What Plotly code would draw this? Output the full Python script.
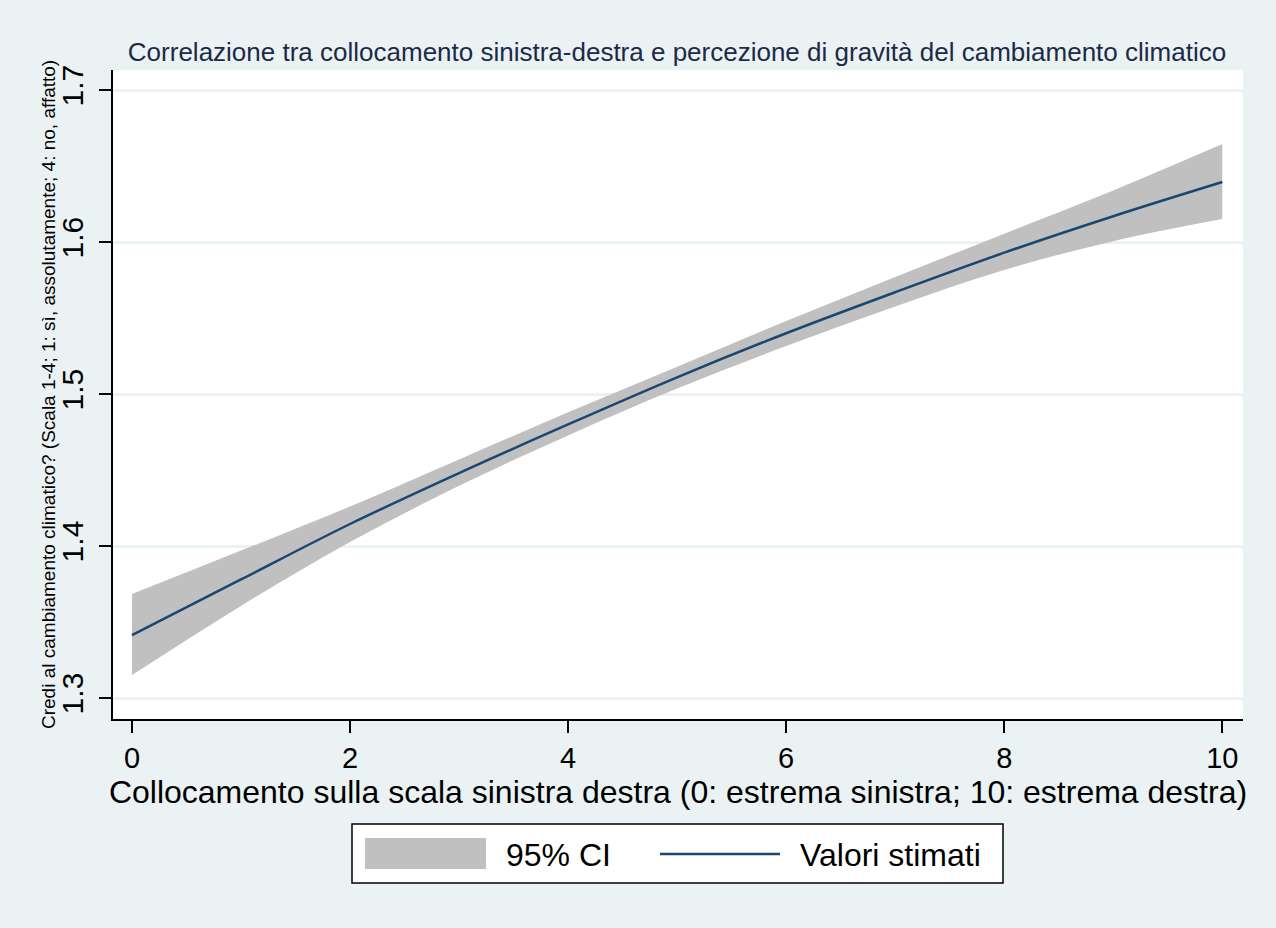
import plotly.graph_objects as go

x_vals = [0, 1, 2, 3, 4, 5, 6, 7, 8, 9, 10]
fitted = [1.3414, 1.378, 1.4145, 1.448, 1.480, 1.511, 1.540, 1.567, 1.593, 1.617, 1.6395]
ci_upper = [1.3684, 1.397, 1.426, 1.457, 1.488, 1.518, 1.548, 1.577, 1.6055, 1.634, 1.6645]
ci_lower = [1.3151, 1.3606, 1.4026, 1.4396, 1.4728, 1.5036, 1.5316, 1.5576, 1.5816, 1.6006, 1.6151]

x_ticks = [0, 2, 4, 6, 8, 10]
y_ticks = [1.3, 1.4, 1.5, 1.6, 1.7]

legend_labels = ["95% CI", "Valori stimati"]
y_title = "Credi al cambiamento climatico? (Scala 1-4; 1: sì, assolutamente; 4: no, affatto)"
x_title = "Collocamento sulla scala sinistra destra (0: estrema sinistra; 10: estrema destra)"
main_title = "Correlazione tra collocamento sinistra-destra e percezione di gravità del cambiamento climatico"

BG = "#EAF2F3"
BAND = "#C0C0C0"
LINE = "#1A476F"
FONT = "Liberation Sans, Arial, sans-serif"

W, H = 1276, 928
L, R, T, B = 113, 33, 70, 209
PW, PH = W - L - R, H - T - B


def px(xp):
    return (xp - L) / PW


def py(yp):
    return (H - B - yp) / PH


fig = go.Figure()
fig.add_trace(go.Scatter(x=x_vals, y=ci_lower, mode="lines", line=dict(width=0, color=BAND, shape="spline", smoothing=1),
                         showlegend=False, hoverinfo="skip"))
fig.add_trace(go.Scatter(x=x_vals, y=ci_upper, mode="lines", line=dict(width=0, color=BAND, shape="spline", smoothing=1),
                         fill="tonexty", fillcolor=BAND, name=legend_labels[0], showlegend=False))
fig.add_trace(go.Scatter(x=x_vals, y=fitted, mode="lines", line=dict(width=2.5, color=LINE, shape="spline", smoothing=1),
                         name=legend_labels[1], showlegend=False))

# custom legend (Stata style)
shapes = [
    dict(type="rect", xref="paper", yref="paper", x0=px(352), x1=px(1003), y0=py(883), y1=py(824),
         line=dict(color="black", width=1.5), fillcolor="white", layer="above"),
    dict(type="rect", xref="paper", yref="paper", x0=px(365), x1=px(486), y0=py(869), y1=py(838),
         line=dict(width=0), fillcolor=BAND, layer="above"),
    dict(type="line", xref="paper", yref="paper", x0=px(660), x1=px(780), y0=py(854), y1=py(854),
         line=dict(color=LINE, width=2.5), layer="above"),
]
annotations = [
    dict(text=legend_labels[0], xref="paper", yref="paper", x=px(504), y=py(855),
         xanchor="left", yanchor="middle", showarrow=False, font=dict(size=32, color="black")),
    dict(text=legend_labels[1], xref="paper", yref="paper", x=px(798), y=py(855),
         xanchor="left", yanchor="middle", showarrow=False, font=dict(size=32, color="black")),
    dict(text=y_title, xref="paper", yref="paper", x=px(48), y=py(395), textangle=-90,
         xanchor="center", yanchor="middle", showarrow=False, font=dict(size=19, color="black")),
]

fig.update_layout(
    width=W, height=H,
    paper_bgcolor=BG, plot_bgcolor="white",
    margin=dict(l=L, r=R, t=T, b=B),
    font=dict(family=FONT, color="black"),
    title=dict(text=main_title,
               x=px(677), xref="paper", xanchor="center", y=1 - 52 / H, yanchor="middle",
               font=dict(size=26, color="#1C2A48", family=FONT)),
    xaxis=dict(range=[-0.174, 10.19], tickvals=x_ticks, ticktext=[str(v) for v in x_ticks],
               showgrid=False, zeroline=False, showline=True, linecolor="black", linewidth=1.5,
               ticks="outside", ticklen=12, tickwidth=1.5, tickcolor="black",
               tickfont=dict(size=29), ticklabelstandoff=0,
               title=dict(text=x_title, font=dict(size=32), standoff=0)),
    yaxis=dict(range=[1.2862, 1.7132], tickvals=y_ticks, ticktext=[f"{v:.1f}" for v in y_ticks],
               showgrid=True, gridcolor=BG, gridwidth=2.5, zeroline=False,
               showline=True, linecolor="black", linewidth=1.5,
               ticks="outside", ticklen=12, tickwidth=1.5, tickcolor="black",
               tickfont=dict(size=30), tickangle=-90, ticklabelstandoff=4),
    shapes=shapes,
    annotations=annotations,
    showlegend=False,
)

fig.write_html("out.html", config={"displayModeBar": False},
               post_script="document.body.style.margin='0';document.body.style.overflow='hidden';")
